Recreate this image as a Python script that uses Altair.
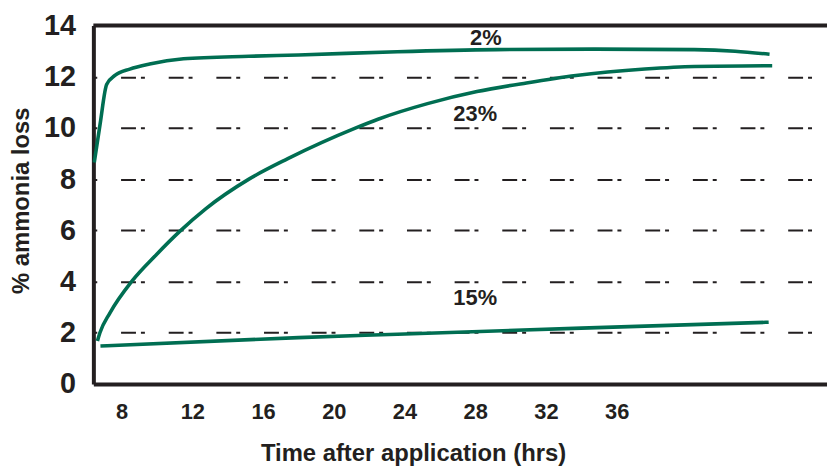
import altair as alt
import pandas as pd

# --- data ---
hours_2 = [6.45, 6.78, 7.15, 7.62, 8.46, 9.58, 11.5, 15.2, 18.0, 23.6, 29.2, 34.8, 40.4, 42.7, 44.65]
loss_2 = [8.65, 10.15, 11.7, 12.05, 12.3, 12.5, 12.7, 12.8, 12.85, 12.98, 13.06, 13.08, 13.06, 13.0, 12.88]

hours_23 = [6.63, 6.77, 7.34, 8.56, 9.96, 11.27, 12.77, 15.2, 17.4, 21.25, 22.5, 25.3, 28.1,
            30.9, 33.7, 37.6, 40.4, 44.8]
loss_23 = [1.68, 2.0, 2.78, 4.0, 5.05, 5.95, 6.85, 8.0, 8.8, 10.0, 10.34, 10.95, 11.42,
           11.76, 12.05, 12.3, 12.4, 12.43]

hours_15 = [6.8, 18.0, 23.6, 34.0, 44.6]
loss_15 = [1.48, 1.81, 1.94, 2.18, 2.41]

label_text = ["2%", "23%", "15%"]
label_hours = [28.6, 28.0, 28.0]
label_loss = [13.5, 10.54, 3.37]

x_ticks = [8, 12, 16, 20, 24, 28, 32, 36]
y_ticks = [0, 2, 4, 6, 8, 10, 12, 14]
x_domain = [6.4, 47.9]
y_domain = [0, 14]

rows = []
for name, hs, vs in [("2%", hours_2, loss_2), ("23%", hours_23, loss_23), ("15%", hours_15, loss_15)]:
    for h, v in zip(hs, vs):
        rows.append({"series": name, "hours": h, "loss": v})
df = pd.DataFrame(rows)
labels = pd.DataFrame({"text": label_text, "hours": label_hours, "loss": label_loss})
top = pd.DataFrame({"loss": [14]})

FONT = "Liberation Sans"
INK = "#231f20"
GREEN = "#006e52"

x_enc = alt.X(
    "hours:Q",
    scale=alt.Scale(domain=x_domain, nice=False, zero=False),
    axis=alt.Axis(
        values=x_ticks, title="Time after application (hrs)", grid=False,
        ticks=False, domainColor=INK, domainWidth=4,
        labelFont=FONT, labelFontSize=22, labelFontWeight="bold", labelColor=INK,
        labelPadding=18, titleFont=FONT, titleFontSize=24, titleFontWeight="bold",
        titleColor=INK, titlePadding=19, titleX=322,
    ),
)
y_enc = alt.Y(
    "loss:Q",
    scale=alt.Scale(domain=y_domain, nice=False),
    axis=alt.Axis(
        values=y_ticks, title="% ammonia loss", grid=True,
        gridDash=[15, 5, 4, 24], gridDashOffset=20.6, gridColor=INK, gridWidth=2,
        gridOpacity=1, ticks=False, domainColor=INK, domainWidth=4,
        labelFont=FONT, labelFontSize=29, labelFontWeight="bold", labelColor=INK,
        labelPadding=18, titleFont=FONT, titleFontSize=24, titleFontWeight="bold",
        titleColor=INK, titlePadding=10, titleY=176,
    ),
)

lines = alt.Chart(df).mark_line(strokeWidth=3.6, interpolate="monotone", color=GREEN).encode(
    x=x_enc, y=y_enc, detail="series:N"
)

top_rule = alt.Chart(top).mark_rule(color=INK, strokeWidth=4).encode(y="loss:Q")

text = alt.Chart(labels).mark_text(
    font=FONT, fontSize=22, fontWeight="bold", color=INK, align="center", baseline="middle"
).encode(x="hours:Q", y="loss:Q", text="text:N")

chart = (
    alt.layer(lines, top_rule, text)
    .properties(
        width=739, height=361,
        autosize=alt.AutoSizeParams(type="none"),
        padding={"left": 86, "top": 16, "right": 0, "bottom": 84},
    )
    .configure_view(stroke=None)
    .configure(background="white")
)

chart.save("out.html", embed_options={"renderer": "svg", "actions": False})
